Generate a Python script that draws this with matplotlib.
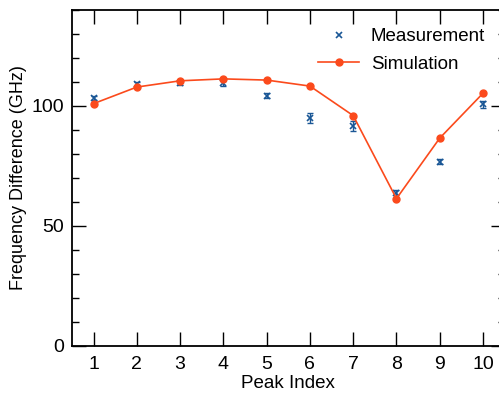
import matplotlib.pyplot as plt
from matplotlib.ticker import MultipleLocator

plt.rcParams['font.family'] = ['Liberation Sans', 'DejaVu Sans']
plt.rcParams['font.size'] = 13.5

peak = [1, 2, 3, 4, 5, 6, 7, 8, 9, 10]
meas = [103.3, 109.1, 109.7, 109.5, 104.3, 94.9, 91.7, 63.6, 76.8, 100.7]
meas_err = [1.0, 1.0, 1.0, 1.0, 1.0, 2.0, 2.0, 1.5, 1.0, 1.5]
sim = [101.0, 107.9, 110.5, 111.3, 110.8, 108.3, 96.0, 61.4, 86.6, 105.3]

blue = '#1a5796'
red = '#fb4a1c'

fig = plt.figure(figsize=(4.99, 3.94), dpi=100)
ax = fig.add_axes([72 / 499, 48 / 394, 432.6 / 499, 336 / 394])

ax.errorbar(peak, meas, yerr=meas_err, fmt='none', ecolor=blue,
            elinewidth=1, capsize=2.5, capthick=1)
ax.plot(peak, meas, 'x', color=blue, ms=4, mew=1.2, label='Measurement')
ax.plot(peak, sim, '-o', color=red, lw=1.2, ms=5, label='Simulation')

ax.set_xlim(0.5, 10.5)
ax.set_ylim(0, 140)
ax.xaxis.set_major_locator(MultipleLocator(1))
ax.yaxis.set_major_locator(MultipleLocator(50))
ax.yaxis.set_minor_locator(MultipleLocator(10))
ax.tick_params(which='both', direction='in', top=True, right=True, width=1,
               labelsize=14)
ax.tick_params(which='major', length=10)
ax.tick_params(axis='x', which='major', pad=7)
ax.tick_params(axis='y', which='major', pad=6)
ax.tick_params(which='minor', length=5)
for s in ax.spines.values():
    s.set_linewidth(1.3)

ax.set_xlabel('Peak Index', labelpad=2)
ax.set_ylabel('Frequency Difference (GHz)', fontsize=13, labelpad=3)

ax.legend(loc='upper right', bbox_to_anchor=(0.985, 0.985), frameon=False,
          handlelength=2.2, handletextpad=0.6, labelspacing=0.55, borderaxespad=0.3)

fig.savefig('out.png', dpi=100)
